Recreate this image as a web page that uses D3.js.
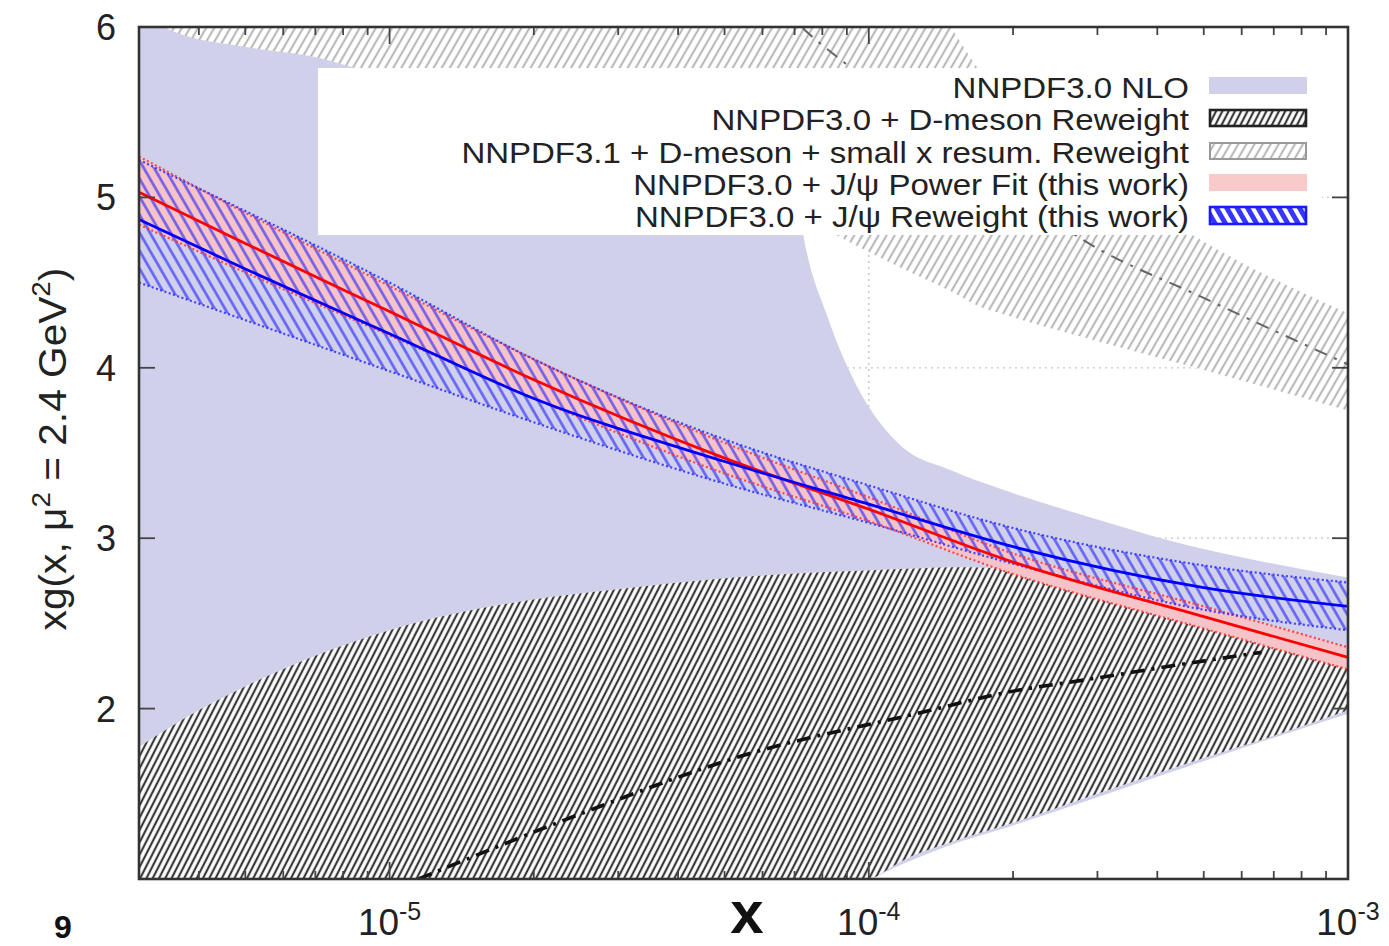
<!DOCTYPE html>
<html><head><meta charset="utf-8">
<script src="https://cdn.jsdelivr.net/npm/d3@7"></script>
<style>
body{margin:0;background:#fff;}
svg{display:block;font-family:"Liberation Sans",Arial,Helvetica,sans-serif;}
text{white-space:pre;}
</style>
</head><body><svg id="c" width="1389" height="946"></svg>
<script>
// ---------------- data ----------------
// NNPDF3.0 NLO band
const nloX  = [3e-6, 1e-5, 3e-5, 5e-5, 6e-5, 6.6e-5, 7.3e-5, 8.2e-5, 9.3e-5, 1.16e-4, 1.48e-4, 1.88e-4, 3e-4, 4.2e-4, 6.2e-4, 1e-3];
const nloLo = [0.30, 0.45, 0.62, 0.75, 0.80, 0.83, 0.86, 0.90, 0.95, 1.08, 1.20, 1.29, 1.48, 1.62, 1.78, 1.97];
const nloHi = [8.0, 8.0, 7.8, 7.2, 6.4, 5.7, 4.78, 4.30, 3.93, 3.55, 3.40, 3.29, 3.11, 2.99, 2.88, 2.77];
// NNPDF3.0 + D-meson reweight band
const dmX  = [3e-6, 4e-6, 5e-6, 7e-6, 1e-5, 2e-5, 3e-5, 5e-5, 8e-5, 1e-4, 1.2e-4, 1.5e-4, 2e-4, 3e-4, 5e-4, 7e-4, 1e-3];
const dmLo = [0.15, 0.20, 0.25, 0.32, 0.40, 0.52, 0.60, 0.72, 0.88, 0.99, 1.12, 1.22, 1.33, 1.50, 1.71, 1.84, 1.99];
const dmHi = [1.775, 1.99, 2.13, 2.31, 2.46, 2.64, 2.70, 2.765, 2.80, 2.81, 2.82, 2.83, 2.82, 2.70, 2.50, 2.40, 2.28];
const dmCX = [1.15e-5, 2.6e-5, 5.4e-5, 1.3e-4, 1.9e-4, 3e-4, 4.5e-4, 6.6e-4];
const dmC  = [1.0, 1.40, 1.72, 1.98, 2.09, 2.18, 2.26, 2.33];
// NNPDF3.1 + D-meson + small x resum. reweight band
const rsX  = [3e-6, 3.5e-6, 5.1e-6, 7.1e-6, 8.8e-6, 1e-5, 2e-5, 5e-5, 1e-4, 1.16e-4, 1.48e-4, 1.7e-4, 1.88e-4, 2.8e-4, 4.67e-4, 1e-3];
const rsLo = [6.12, 5.98, 5.88, 5.82, 5.75, 5.72, 5.52, 5.12, 4.68, 4.59, 4.45, 4.36, 4.32, 4.18, 4.01, 3.75];
const rsHi = [8.0, 8.0, 8.0, 8.0, 8.0, 8.0, 7.8, 7.2, 6.6, 6.35, 6.0, 5.75, 5.62, 5.22, 4.79, 4.32];
const rsCX = [6.5e-5, 7.5e-5, 8.9e-5, 1.48e-4, 2.8e-4, 5e-4, 1e-3];
const rsC  = [6.12, 5.96, 5.79, 5.35, 4.75, 4.41, 4.02];
// J/psi power fit (red) and J/psi reweight (blue)
const jX    = [3e-6, 5e-6, 1e-5, 2e-5, 5e-5, 1e-4, 2e-4, 5e-4, 1e-3];
const redC  = [5.03, 4.73, 4.33, 3.93, 3.47, 3.17, 2.86, 2.54, 2.30];
const redLo = [4.84, 4.56, 4.19, 3.82, 3.38, 3.10, 2.79, 2.47, 2.23];
const redHi = [5.24, 4.91, 4.48, 4.05, 3.56, 3.24, 2.91, 2.60, 2.36];
const blueC  = [4.87, 4.58, 4.20, 3.82, 3.45, 3.20, 2.95, 2.71, 2.60];
const blueLo = [4.50, 4.28, 3.98, 3.68, 3.32, 3.09, 2.85, 2.58, 2.46];
const blueHi = [5.22, 4.92, 4.50, 4.05, 3.58, 3.31, 3.06, 2.84, 2.74];
// axes
const yTicks = [2, 3, 4, 5, 6];
const xMajor = [1e-5, 1e-4, 1e-3];
const xMajorExp = ["-5", "-4", "-3"];
const legendLabels = [
  "NNPDF3.0 NLO",
  "NNPDF3.0 + D-meson Reweight",
  "NNPDF3.1 + D-meson + small x resum. Reweight",
  "NNPDF3.0 + J/\u03c8 Power Fit (this work)",
  "NNPDF3.0 + J/\u03c8 Reweight (this work)"
];

// ---------------- chart ----------------
const L = 139, R = 1348, T = 27, B = 879;
const x = d3.scaleLog().domain([3e-6, 1e-3]).range([L, R]);
const y = d3.scaleLinear().domain([1, 6]).range([B, T]);

const svg = d3.select('#c');
const defs = svg.append('defs');
defs.append('clipPath').attr('id', 'plot').append('rect')
  .attr('x', L).attr('y', T).attr('width', R - L).attr('height', B - T);

function hatch(id, sp, ang, color, w, bg, op) {
  const p = defs.append('pattern').attr('id', id).attr('patternUnits', 'userSpaceOnUse')
    .attr('width', sp).attr('height', sp).attr('patternTransform', `rotate(${ang})`);
  if (bg) p.append('rect').attr('width', sp).attr('height', sp).attr('fill', bg);
  p.append('line').attr('x1', sp / 2).attr('y1', -1).attr('x2', sp / 2).attr('y2', sp + 1)
    .attr('stroke', color).attr('stroke-width', w).attr('stroke-opacity', op || 1);
}
hatch('hBlack', 5.6, 27, '#383838', 2.2, '#fff');
hatch('hGray', 7, 30, '#a8a8a8', 1.7, '#fff');
hatch('hBlue', 9, -30, '#1c1cff', 2.6, null, 0.62);
hatch('hBlueLeg', 9, -30, '#2020ff', 5, '#fff', 0.9);

const band = (xs, lo, hi) => xs.map((v, i) => ({x: v, lo: lo[i], hi: hi[i]}));
const pts = (xs, vs) => xs.map((v, i) => ({x: v, v: vs[i]}));
const area = d3.area().x(d => x(d.x)).y0(d => y(d.lo)).y1(d => y(d.hi)).curve(d3.curveMonotoneX);
const line = d3.line().x(d => x(d.x)).y(d => y(d.v)).curve(d3.curveMonotoneX);

const plot = svg.append('g').attr('clip-path', 'url(#plot)');

// grid
plot.selectAll('.gy').data(yTicks.filter(v => v < 6)).join('line')
  .attr('x1', L).attr('x2', R).attr('y1', d => y(d)).attr('y2', d => y(d))
  .attr('stroke', '#c4c4c4').attr('stroke-width', 1.3).attr('stroke-dasharray', '2,4');
plot.selectAll('.gx').data(xMajor.filter(v => v < 1e-3)).join('line')
  .attr('x1', d => x(d)).attr('x2', d => x(d)).attr('y1', T).attr('y2', B)
  .attr('stroke', '#c4c4c4').attr('stroke-width', 1.3).attr('stroke-dasharray', '2,4');

// bands
plot.append('path').attr('d', area(band(nloX, nloLo, nloHi))).attr('fill', '#d0d0ea');
plot.append('path').attr('d', area(band(dmX, dmLo, dmHi))).attr('fill', 'url(#hBlack)');
plot.append('path').attr('d', area(band(rsX, rsLo, rsHi))).attr('fill', 'url(#hGray)');
plot.append('path').attr('d', line(pts(dmCX, dmC))).attr('fill', 'none')
  .attr('stroke', '#111').attr('stroke-width', 3.6).attr('stroke-dasharray', '14,7,3,7');
plot.append('path').attr('d', line(pts(rsCX, rsC))).attr('fill', 'none')
  .attr('stroke', '#666').attr('stroke-width', 2).attr('stroke-dasharray', '13,8,3,8');

plot.append('path').attr('d', area(band(jX, redLo, redHi))).attr('fill', '#f6c4c8');
plot.append('path').attr('d', area(band(jX, blueLo, blueHi))).attr('fill', 'url(#hBlue)');
[[redLo, '#ff3030'], [redHi, '#ff3030'], [blueLo, '#2a2aff'], [blueHi, '#2a2aff']].forEach(([vs, c]) => {
  plot.append('path').attr('d', line(pts(jX, vs))).attr('fill', 'none')
    .attr('stroke', c).attr('stroke-width', 2.2).attr('stroke-dasharray', '2,2.5').attr('opacity', 0.85);
});
plot.append('path').attr('d', line(pts(jX, redC))).attr('fill', 'none').attr('stroke', '#ff0000').attr('stroke-width', 2.8);
plot.append('path').attr('d', line(pts(jX, blueC))).attr('fill', 'none').attr('stroke', '#0000ff').attr('stroke-width', 2.8);

// legend
svg.append('rect').attr('x', 318).attr('y', 68).attr('width', 1004).attr('height', 167).attr('fill', '#fff');
const legBase = [98, 130, 163, 195, 227];
const leg = svg.append('g');
legendLabels.forEach((s, i) => {
  leg.append('g').attr('transform', `translate(1189,${legBase[i]}) scale(1.1,1)`)
    .append('text').attr('text-anchor', 'end').attr('font-size', 30).attr('fill', '#222').text(s);
});
const sx = 1209, sw = 98, sh = 17;
leg.append('rect').attr('x', sx).attr('y', legBase[0] - 21).attr('width', sw).attr('height', sh).attr('fill', '#d0d0ea');
leg.append('rect').attr('x', sx + 1).attr('y', legBase[1] - 20).attr('width', sw - 2).attr('height', sh - 1)
  .attr('fill', 'url(#hBlack)').attr('stroke', '#222').attr('stroke-width', 2.6);
leg.append('rect').attr('x', sx + 1).attr('y', legBase[2] - 20).attr('width', sw - 2).attr('height', sh - 1)
  .attr('fill', 'url(#hGray)').attr('stroke', '#999').attr('stroke-width', 2);
leg.append('rect').attr('x', sx).attr('y', legBase[3] - 21).attr('width', sw).attr('height', sh).attr('fill', '#f8caca');
leg.append('rect').attr('x', sx + 1).attr('y', legBase[4] - 20).attr('width', sw - 2).attr('height', sh)
  .attr('fill', 'url(#hBlueLeg)').attr('stroke', '#1a1aff').attr('stroke-width', 2.6);

// frame and ticks
const ax = svg.append('g');
const minor = x.ticks().filter(v => !xMajor.includes(v) && Math.abs(Math.log10(v) - Math.round(Math.log10(v))) > 1e-6);
ax.selectAll('.mb').data(minor).join('line')
  .attr('x1', d => x(d)).attr('x2', d => x(d)).attr('y1', B).attr('y2', B - 8).attr('stroke', '#444').attr('stroke-width', 1.8);
ax.selectAll('.mt').data(minor).join('line')
  .attr('x1', d => x(d)).attr('x2', d => x(d)).attr('y1', T).attr('y2', T + 8).attr('stroke', '#444').attr('stroke-width', 1.8);
ax.selectAll('.Mb').data(xMajor).join('line')
  .attr('x1', d => x(d)).attr('x2', d => x(d)).attr('y1', B).attr('y2', B - 17).attr('stroke', '#444').attr('stroke-width', 1.8);
ax.selectAll('.Mt').data(xMajor).join('line')
  .attr('x1', d => x(d)).attr('x2', d => x(d)).attr('y1', T).attr('y2', T + 17).attr('stroke', '#444').attr('stroke-width', 1.8);
ax.selectAll('.yl').data(yTicks).join('line')
  .attr('x1', L).attr('x2', L + 16).attr('y1', d => y(d)).attr('y2', d => y(d)).attr('stroke', '#444').attr('stroke-width', 1.8);
ax.selectAll('.yr').data(yTicks).join('line')
  .attr('x1', R).attr('x2', R - 16).attr('y1', d => y(d)).attr('y2', d => y(d)).attr('stroke', '#444').attr('stroke-width', 1.8);
ax.append('rect').attr('x', L).attr('y', T).attr('width', R - L).attr('height', B - T)
  .attr('fill', 'none').attr('stroke', '#333').attr('stroke-width', 2.6);

// tick labels
ax.selectAll('.ytl').data(yTicks).join('text')
  .attr('x', 116).attr('y', d => y(d) + 13).attr('text-anchor', 'end').attr('font-size', 36).attr('fill', '#222')
  .text(d => d);
xMajor.forEach((v, i) => {
  const t = ax.append('text').attr('x', x(v)).attr('y', 935).attr('text-anchor', 'middle').attr('font-size', 37).attr('fill', '#222');
  t.append('tspan').text('10');
  t.append('tspan').attr('font-size', 25).attr('dy', -15).text(xMajorExp[i]);
});

// axis titles
svg.append('text').attr('x', 747).attr('y', 933).attr('text-anchor', 'middle')
  .attr('font-size', 60).attr('font-weight', 'bold').attr('fill', '#111').text('x');
const yl = svg.append('g').attr('transform', 'translate(66,449) rotate(-90) scale(1.07,1)')
  .append('text').attr('text-anchor', 'middle').attr('font-size', 38).attr('fill', '#222');
yl.append('tspan').text('xg(x, \u03bc');
yl.append('tspan').attr('font-size', 26).attr('dy', -16).text('2');
yl.append('tspan').attr('dy', 16).text(' = 2.4 GeV');
yl.append('tspan').attr('font-size', 26).attr('dy', -16).text('2');
yl.append('tspan').attr('dy', 16).text(')');

// page number
svg.append('text').attr('x', 54).attr('y', 938).attr('font-size', 32).attr('font-weight', 'bold').attr('fill', '#111').text('9');
</script>
</body></html>
